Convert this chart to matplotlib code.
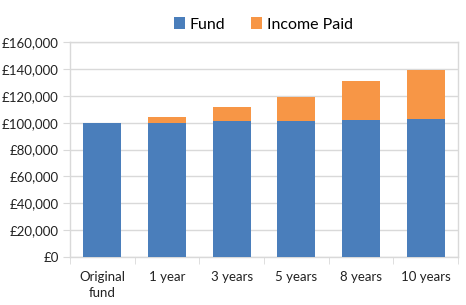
import matplotlib.pyplot as plt
import numpy as np
from matplotlib.ticker import FuncFormatter

plt.rcParams['font.family'] = ['Lato', 'DejaVu Sans']

# valeurs
categories = ["Original\nfund", "1 year", "3 years", "5 years", "8 years", "10 years"]
fund = [100000, 100000, 101000, 101200, 101700, 102500]
income = [0, 4000, 10500, 18300, 29300, 36500]

blue = "#4A7EBB"
orange = "#F79646"
grid = "#D9D9D9"

fig = plt.figure(figsize=(4.66, 3.05), dpi=100)
ax = fig.add_axes([0.150, 0.157, 0.833, 0.705])

x = np.arange(len(categories))
ax.bar(x, fund, width=0.59, color=blue, label="Fund", zorder=3)
ax.bar(x, income, width=0.59, bottom=fund, color=orange, label="Income Paid", zorder=3)

ax.set_ylim(0, 160000)
ax.set_yticks(np.arange(0, 160001, 20000))
ax.yaxis.set_major_formatter(FuncFormatter(lambda v, p: "£{:,.0f}".format(v)))
ax.set_xlim(-0.5, len(categories) - 0.5)
ax.set_xticks(x)
ax.set_xticklabels(categories, linespacing=1.4)
ax.set_xticks(np.arange(-0.5, len(categories)), minor=True)
ax.tick_params(axis="x", which="major", length=0, pad=10, labelsize=9.5, labelcolor="#222222")
ax.tick_params(axis="x", which="minor", length=5, color=grid)
ax.tick_params(axis="y", length=5, color=grid, labelsize=9.5, pad=3, labelcolor="#222222")

ax.grid(axis="y", color=grid, linewidth=1, zorder=0)
for s in ax.spines.values():
    s.set_color(grid)
    s.set_linewidth(1)

fig.legend(loc="upper center", bbox_to_anchor=(0.565, 0.99), ncol=2, frameon=False,
           fontsize=11.5, handlelength=0.7, handleheight=0.7, columnspacing=1.6,
           handletextpad=0.3)

plt.savefig("out.png", dpi=100)
